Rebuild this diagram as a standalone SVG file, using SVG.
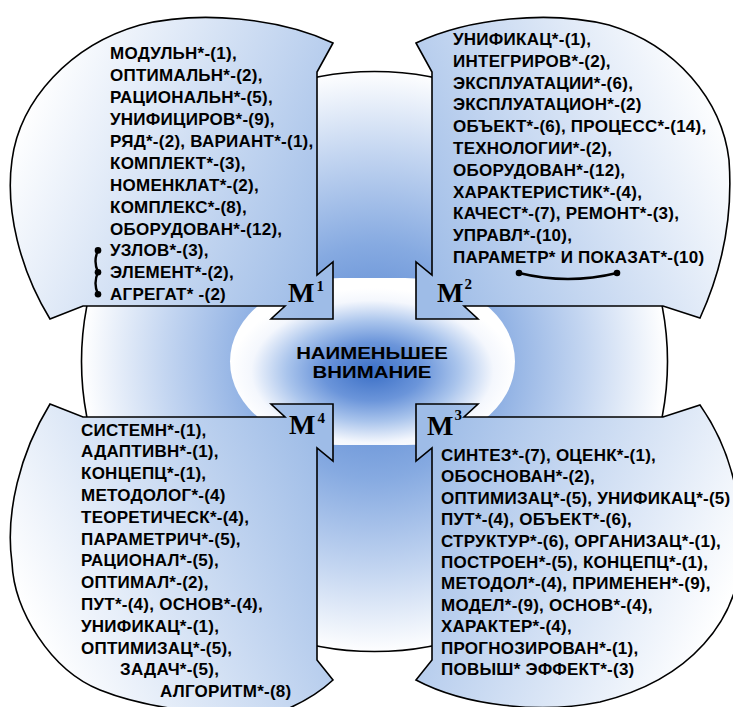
<svg xmlns="http://www.w3.org/2000/svg" width="733" height="707" viewBox="0 0 733 707">
  <defs>
    <radialGradient id="gBg" gradientUnits="userSpaceOnUse" cx="374.5" cy="361.5" r="292">
      <stop offset="0" stop-color="#4f7fcf"/>
      <stop offset="0.4" stop-color="#86aae1"/>
      <stop offset="0.72" stop-color="#c4d6f1"/>
      <stop offset="1" stop-color="#ffffff"/>
    </radialGradient>
    <radialGradient id="gCore" cx="0.5" cy="0.56" r="0.5">
      <stop offset="0" stop-color="#3b6fc6"/>
      <stop offset="0.35" stop-color="#6b95da"/>
      <stop offset="0.6" stop-color="#a9c4ec"/>
      <stop offset="0.85" stop-color="#f4f7fd"/>
      <stop offset="1" stop-color="#ffffff"/>
    </radialGradient>
    <linearGradient id="g1" gradientUnits="userSpaceOnUse" x1="20" y1="120" x2="330" y2="260">
      <stop offset="0" stop-color="#ffffff"/>
      <stop offset="1" stop-color="#9ebce7"/>
    </linearGradient>
    <linearGradient id="g2" gradientUnits="userSpaceOnUse" x1="729" y1="120" x2="419" y2="260">
      <stop offset="0" stop-color="#ffffff"/>
      <stop offset="1" stop-color="#9ebce7"/>
    </linearGradient>
    <linearGradient id="g3" gradientUnits="userSpaceOnUse" x1="729" y1="603" x2="419" y2="463">
      <stop offset="0" stop-color="#ffffff"/>
      <stop offset="1" stop-color="#9ebce7"/>
    </linearGradient>
    <linearGradient id="g4" gradientUnits="userSpaceOnUse" x1="20" y1="603" x2="330" y2="463">
      <stop offset="0" stop-color="#ffffff"/>
      <stop offset="1" stop-color="#9ebce7"/>
    </linearGradient>
  </defs>
  <style>
    .outline { stroke: #000; stroke-width: 1.6; stroke-linejoin: miter; }
    .t { font-family: "Liberation Sans", Arial, sans-serif; font-weight: bold; font-size: 17px; letter-spacing: 0.25px; fill: #000; }
    .core { font-family: "Liberation Sans", Arial, sans-serif; font-weight: bold; font-size: 17px; fill: #000; text-anchor: middle; }
    .m { font-family: "Liberation Serif", "Times New Roman", serif; font-weight: bold; font-size: 28px; fill: #000; }
    .sup { font-size: 15px; }
    .link { fill: none; stroke: #000; stroke-width: 2.4; }
    .dot { fill: #000; }
  </style>

  <!-- backdrop disc and the central field -->
  <ellipse id="backdrop" cx="374.5" cy="361.5" rx="293" ry="290" fill="url(#gBg)" class="outline"/>
  <g id="node-core">
    <rect x="230" y="278" width="285" height="167" rx="110" ry="83.5" fill="url(#gCore)"/>
    <g transform="translate(372 0) scale(1.2 1)">
      <text class="core" x="0" y="359">НАИМЕНЬШЕЕ</text>
      <text class="core" x="0" y="378">ВНИМАНИЕ</text>
    </g>
  </g>

  <!-- quadrant M1 -->
  <g id="node-m1">
    <path class="outline" fill="url(#g1)" d="M333,43 L317,72 L317,275 L333,262 L333,319 L271,319 L285,306 L83,306 L50,319 C20,270 5,210 12,160 C20,100 70,45 140,25 C200,10 280,18 333,43 Z"/>
    <text class="t" x="110" y="59.3">МОДУЛЬН*-(1),</text>
    <text class="t" x="110" y="81.2">ОПТИМАЛЬН*-(2),</text>
    <text class="t" x="110" y="103.1">РАЦИОНАЛЬН*-(5),</text>
    <text class="t" x="110" y="125">УНИФИЦИРОВ*-(9),</text>
    <text class="t" x="110" y="146.9">РЯД*-(2), ВАРИАНТ*-(1),</text>
    <text class="t" x="110" y="168.8">КОМПЛЕКТ*-(3),</text>
    <text class="t" x="110" y="190.7">НОМЕНКЛАТ*-(2),</text>
    <text class="t" x="110" y="212.6">КОМПЛЕКС*-(8),</text>
    <text class="t" x="110" y="234.5">ОБОРУДОВАН*-(12),</text>
    <text class="t" x="110" y="256.4">УЗЛОВ*-(3),</text>
    <text class="t" x="110" y="278.3">ЭЛЕМЕНТ*-(2),</text>
    <text class="t" x="110" y="300.2">АГРЕГАТ* -(2)</text>
    <text class="m" x="288" y="302">M<tspan class="sup" dx="2" dy="-11">1</tspan></text>
  </g>

  <!-- quadrant M2 -->
  <g id="node-m2">
    <path class="outline" fill="url(#g2)" d="M416,43 L432,72 L432,275 L416,262 L416,319 L478,319 L464,306 L663,306 L700,318 C722,270 733,215 729,160 C722,100 676,45 609,25 C549,10 469,18 416,43 Z"/>
    <text class="t" x="453" y="45">УНИФИКАЦ*-(1),</text>
    <text class="t" x="453" y="66.8">ИНТЕГРИРОВ*-(2),</text>
    <text class="t" x="453" y="88.6">ЭКСПЛУАТАЦИИ*-(6),</text>
    <text class="t" x="453" y="110.4">ЭКСПЛУАТАЦИОН*-(2)</text>
    <text class="t" x="453" y="132.2">ОБЪЕКТ*-(6), ПРОЦЕСС*-(14),</text>
    <text class="t" x="453" y="154">ТЕХНОЛОГИИ*-(2),</text>
    <text class="t" x="453" y="175.8">ОБОРУДОВАН*-(12),</text>
    <text class="t" x="453" y="197.6">ХАРАКТЕРИСТИК*-(4),</text>
    <text class="t" x="453" y="219.4">КАЧЕСТ*-(7), РЕМОНТ*-(3),</text>
    <text class="t" x="453" y="241.2">УПРАВЛ*-(10),</text>
    <text class="t" x="453" y="263">ПАРАМЕТР* И ПОКАЗАТ*-(10)</text>
    <text class="m" x="437" y="302">M<tspan class="sup" dx="1" dy="-13">2</tspan></text>
  </g>

  <!-- quadrant M3 -->
  <g id="node-m3">
    <path class="outline" fill="url(#g3)" d="M416,680 L432,660 L432,448 L416,461 L416,404 L478,404 L464,417 L663,417 L700,405 C728,445 742,495 741,550 C740,620 690,680 600,702 C540,714 465,706 416,680 Z"/>
    <text class="t" x="441" y="461">СИНТЕЗ*-(7), ОЦЕНК*-(1),</text>
    <text class="t" x="441" y="482.4">ОБОСНОВАН*-(2),</text>
    <text class="t" x="441" y="503.8">ОПТИМИЗАЦ*-(5), УНИФИКАЦ*-(5)</text>
    <text class="t" x="441" y="525.2">ПУТ*-(4), ОБЪЕКТ*-(6),</text>
    <text class="t" x="441" y="546.6">СТРУКТУР*-(6), ОРГАНИЗАЦ*-(1),</text>
    <text class="t" x="441" y="568">ПОСТРОЕН*-(5), КОНЦЕПЦ*-(1),</text>
    <text class="t" x="441" y="589.4">МЕТОДОЛ*-(4), ПРИМЕНЕН*-(9),</text>
    <text class="t" x="441" y="610.8">МОДЕЛ*-(9), ОСНОВ*-(4),</text>
    <text class="t" x="441" y="632.2">ХАРАКТЕР*-(4),</text>
    <text class="t" x="441" y="653.6">ПРОГНОЗИРОВАН*-(1),</text>
    <text class="t" x="441" y="675">ПОВЫШ* ЭФФЕКТ*-(3)</text>
    <text class="m" x="427" y="435">M<tspan class="sup" dx="1" dy="-15">3</tspan></text>
  </g>

  <!-- quadrant M4 -->
  <g id="node-m4">
    <path class="outline" fill="url(#g4)" d="M333,680 L317,660 L317,448 L333,461 L333,404 L271,404 L285,417 L83,417 L50,404 C20,453 5,513 12,563 C14,610 50,670 100,690 C130,702 160,708 200,712 L280,712 C300,704 318,694 333,680 Z"/>
    <text class="t" x="81" y="435.5">СИСТЕМН*-(1),</text>
    <text class="t" x="81" y="457.3">АДАПТИВН*-(1),</text>
    <text class="t" x="81" y="479.1">КОНЦЕПЦ*-(1),</text>
    <text class="t" x="81" y="500.9">МЕТОДОЛОГ*-(4)</text>
    <text class="t" x="81" y="522.7">ТЕОРЕТИЧЕСК*-(4),</text>
    <text class="t" x="81" y="544.5">ПАРАМЕТРИЧ*-(5),</text>
    <text class="t" x="81" y="566.3">РАЦИОНАЛ*-(5),</text>
    <text class="t" x="81" y="588.1">ОПТИМАЛ*-(2),</text>
    <text class="t" x="81" y="609.9">ПУТ*-(4), ОСНОВ*-(4),</text>
    <text class="t" x="81" y="631.7">УНИФИКАЦ*-(1),</text>
    <text class="t" x="81" y="653.5">ОПТИМИЗАЦ*-(5),</text>
    <text class="t" x="120" y="675.3">ЗАДАЧ*-(5),</text>
    <text class="t" x="160" y="697.1">АЛГОРИТМ*-(8)</text>
    <text class="m" x="289" y="434">M<tspan class="sup" dx="2" dy="-11">4</tspan></text>
  </g>

  <!-- linking marks between grouped terms -->
  <g id="connectors">
    <path class="link" d="M98,250.4 Q93,261.3 98,272.3 Q93,283.2 98,294.2"/>
    <circle class="dot" cx="98" cy="250.4" r="3.3"/>
    <circle class="dot" cx="98" cy="272.3" r="3.3"/>
    <circle class="dot" cx="98" cy="294.2" r="3.3"/>
    <path class="link" d="M519,273 Q568,285 617,273"/>
    <circle class="dot" cx="519" cy="273" r="3.3"/>
    <circle class="dot" cx="617" cy="273" r="3.3"/>
  </g>
</svg>
